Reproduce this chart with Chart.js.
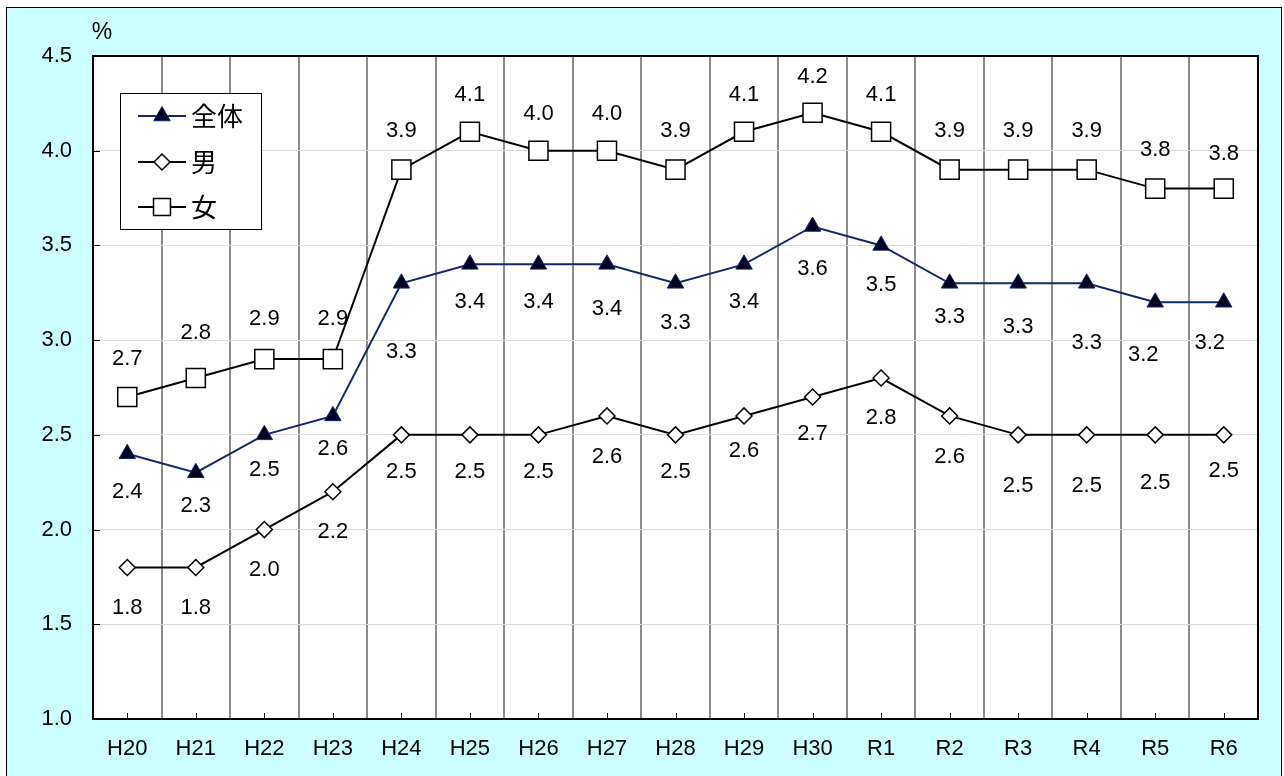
<!DOCTYPE html>
<html>
<head>
<meta charset="utf-8">
<script src="https://cdn.jsdelivr.net/npm/chart.js@4"></script>
<style>
  body { margin: 0; background: #fff; }
  #outer { position: absolute; left: 6px; top: 7px; width: 1274px; height: 780px; background: #ccffff; border: 1px solid #000; }
  #plotbg { position: absolute; left: 93px; top: 56px; width: 1165px; height: 663px; background: #ffffff; }
  #wrap { position: absolute; left: 0; top: 0; width: 1284px; height: 776px; }
</style>
</head>
<body>
<div id="outer"></div>
<div id="plotbg"></div>
<div id="wrap"><canvas id="chart" width="1284" height="776"></canvas></div>
<script>
// categories and values
const years = ['H20','H21','H22','H23','H24','H25','H26','H27','H28','H29','H30','R1','R2','R3','R4','R5','R6'];
const total = [2.4, 2.3, 2.5, 2.6, 3.3, 3.4, 3.4, 3.4, 3.3, 3.4, 3.6, 3.5, 3.3, 3.3, 3.3, 3.2, 3.2];
const male = [1.8, 1.8, 2.0, 2.2, 2.5, 2.5, 2.5, 2.6, 2.5, 2.6, 2.7, 2.8, 2.6, 2.5, 2.5, 2.5, 2.5];
const female = [2.7, 2.8, 2.9, 2.9, 3.9, 4.1, 4.0, 4.0, 3.9, 4.1, 4.2, 4.1, 3.9, 3.9, 3.9, 3.8, 3.8];
const yTicks = [1.0, 1.5, 2.0, 2.5, 3.0, 3.5, 4.0, 4.5];

// label placement (pixels from the point), like the hand-moved Excel labels
const totalLabelDy = [38, 33, 35, 33, 69, 38, 38, 45, 40, 38, 42, 40, 34, 44, 60, 53, 41];
const totalLabelDx = [0, 0, 0, 0, 0, 0, 0, 0, 0, 0, 0, 0, 0, 0, 0, -12, -14];
const maleLabelDy = [40, 40, 40, 40, 37, 37, 37, 41, 37, 35, 37, 40, 41, 51, 51, 48, 36];
const femaleLabelDy = [-38, -45, -40, -40, -39, -37, -37, -37, -39, -37, -36, -37, -39, -39, -39, -39, -35];

const NUM_FAMILY = '"Liberation Sans", Arial, sans-serif';
const NUM_FONT = '22px ' + NUM_FAMILY;

const dataLabels = {
  id: 'dataLabels',
  afterDatasetsDraw(chart) {
    const ctx = chart.ctx;
    ctx.save();
    ctx.font = NUM_FONT;
    ctx.fillStyle = '#000';
    ctx.textAlign = 'center';
    ctx.textBaseline = 'middle';
    chart.data.datasets.forEach((ds, i) => {
      const meta = chart.getDatasetMeta(i);
      meta.data.forEach((pt, j) => {
        const dx = ds.labelDx ? ds.labelDx[j] : 0;
        ctx.fillText(ds.data[j].toFixed(1), pt.x + dx, pt.y + ds.labelDy[j]);
      });
    });
    ctx.restore();
  }
};

const decor = {
  id: 'decor',
  afterDraw(chart) {
    const ctx = chart.ctx;
    const a = chart.chartArea;
    const xs = chart.scales.x, ys = chart.scales.y;
    ctx.save();
    ctx.strokeStyle = '#000';
    // small inside ticks
    ctx.lineWidth = 1;
    ctx.beginPath();
    years.forEach((c, i) => {
      const x = Math.round(xs.getPixelForValue(i)) + 0.5;
      ctx.moveTo(x, a.bottom); ctx.lineTo(x, a.bottom - 6);
    });
    yTicks.forEach(v => {
      const y = Math.round(ys.getPixelForValue(v)) + 0.5;
      ctx.moveTo(a.left, y); ctx.lineTo(a.left + 7, y);
    });
    ctx.stroke();
    // plot box
    ctx.lineWidth = 2;
    ctx.strokeRect(a.left, a.top, a.right - a.left, a.bottom - a.top);
    // unit
    ctx.fillStyle = '#000';
    ctx.font = '23px ' + NUM_FAMILY;
    ctx.textAlign = 'center';
    ctx.textBaseline = 'middle';
    ctx.fillText('%', 102, 33);
    // legend
    const lx = 120, ly = 93, lw = 141, lh = 136;
    ctx.fillStyle = '#fff';
    ctx.fillRect(lx, ly, lw, lh);
    ctx.lineWidth = 1;
    ctx.strokeStyle = '#000';
    ctx.strokeRect(lx + 0.5, ly + 0.5, lw, lh);
    const rows = [116, 162, 207];
    chart.data.datasets.forEach((ds, i) => {
      const y = rows[i];
      ctx.strokeStyle = ds.borderColor;
      ctx.lineWidth = 2;
      ctx.beginPath();
      ctx.moveTo(138, y); ctx.lineTo(186, y);
      ctx.stroke();
      ctx.fillStyle = ds.pointBackgroundColor;
      ctx.strokeStyle = ds.pointBorderColor;
      ctx.lineWidth = ds.pointBorderWidth;
      Chart.helpers.drawPoint(ctx, {
        pointStyle: ds.pointStyle,
        radius: ds.legendRadius,
        rotation: 0,
        borderWidth: ds.pointBorderWidth
      }, 162, y);
      ctx.fillStyle = '#000';
      ctx.font = '26px "Noto Sans CJK JP", sans-serif';
      ctx.textAlign = 'left';
      ctx.textBaseline = 'middle';
      ctx.fillText(ds.label, 191, y);
    });
    ctx.restore();
  }
};

new Chart(document.getElementById('chart'), {
  type: 'line',
  data: {
    labels: years,
    datasets: [
      {
        label: '全体',
        data: total,
        borderColor: '#0f2a66',
        borderWidth: 2,
        pointStyle: 'triangle',
        pointRadius: 9.5,
        legendRadius: 9.5,
        pointBackgroundColor: '#000022',
        pointBorderColor: '#0f2a66',
        pointBorderWidth: 1,
        labelDy: totalLabelDy,
        labelDx: totalLabelDx
      },
      {
        label: '男',
        data: male,
        borderColor: '#000',
        borderWidth: 2,
        pointStyle: 'rectRot',
        pointRadius: 8,
        legendRadius: 8,
        pointBackgroundColor: '#fff',
        pointBorderColor: '#000',
        pointBorderWidth: 1.5,
        labelDy: maleLabelDy
      },
      {
        label: '女',
        data: female,
        borderColor: '#000',
        borderWidth: 2,
        pointStyle: 'rect',
        pointRadius: 13.5,
        legendRadius: 12,
        pointBackgroundColor: '#fff',
        pointBorderColor: '#000',
        pointBorderWidth: 1.5,
        labelDy: femaleLabelDy
      }
    ]
  },
  options: {
    responsive: false,
    animation: false,
    layout: { padding: { top: 56, right: 26, left: 0, bottom: 0 } },
    plugins: { legend: { display: false }, tooltip: { enabled: false } },
    scales: {
      x: {
        offset: true,
        afterFit(s) { s.height = 57; },
        grid: { offset: true, color: '#8c8c8c', lineWidth: 2, drawTicks: false },
        border: { display: false },
        ticks: { color: '#000', font: { family: NUM_FAMILY, size: 22 }, padding: 17, maxRotation: 0 }
      },
      y: {
        min: 1.0,
        max: 4.5,
        afterFit(s) { s.width = 93; },
        afterBuildTicks(s) { s.ticks = yTicks.map(v => ({ value: v })); },
        grid: { color: '#d9d9d9', lineWidth: 1, drawTicks: false },
        border: { display: false },
        ticks: {
          color: '#000',
          font: { family: NUM_FAMILY, size: 22 },
          padding: 21,
          callback: v => v.toFixed(1)
        }
      }
    }
  },
  plugins: [dataLabels, decor]
});
</script>
</body>
</html>
